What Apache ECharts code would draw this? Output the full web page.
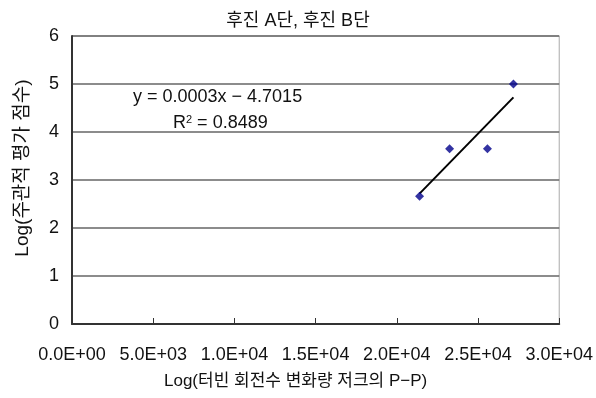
<!DOCTYPE html>
<html>
<head>
<meta charset="utf-8">
<script src="https://cdn.jsdelivr.net/npm/echarts@6/dist/echarts.min.js"></script>
<style>html,body{margin:0;padding:0;background:#fff}#c{width:596px;height:398px}</style>
</head>
<body>
<div id="c"></div>
<script>
var xValues = [21400, 23250, 25580, 27180];
var yValues = [2.66, 3.65, 3.65, 5.0];
var yTicks = [0, 1, 2, 3, 4, 5, 6];
var xTickLabels = ['0.0E+00', '5.0E+03', '1.0E+04', '1.5E+04', '2.0E+04', '2.5E+04', '3.0E+04'];
var titleText = '후진 A단, 후진 B단';
var xName = 'Log(터빈 회전수 변화량 저크의 P−P)';
var yName = 'Log(주관적 평가 점수)';
var eqText = 'y = 0.0003x − 4.7015';
var r2Value = '0.8489';

// least squares trend line from data
var n = xValues.length, mx = 0, my = 0;
for (var i = 0; i < n; i++) { mx += xValues[i]; my += yValues[i]; }
mx /= n; my /= n;
var sxy = 0, sxx = 0;
for (var i = 0; i < n; i++) { sxy += (xValues[i]-mx)*(yValues[i]-my); sxx += (xValues[i]-mx)*(xValues[i]-mx); }
var slope = sxy / sxx, icpt = my - slope * mx;
var xmin = Math.min.apply(null, xValues), xmax = Math.max.apply(null, xValues);
var trend = [[xmin, slope*xmin+icpt], [xmax, slope*xmax+icpt]];

var pts = xValues.map(function(x, i){ return [x, yValues[i]]; });
var font = 'Liberation Sans, Arial, Noto Sans CJK KR, sans-serif';
var txt = '#111';

var chart = echarts.init(document.getElementById('c'));
chart.setOption({
  animation: false,
  title: { text: titleText, left: 'center', top: 7, textStyle: { fontSize: 18, fontWeight: 'normal', color: txt, fontFamily: font } },
  grid: { left: 72, right: 35, top: 36, bottom: 74, show: true, borderColor: '#aaa', borderWidth: 1, backgroundColor: 'transparent' },
  xAxis: {
    type: 'value', min: 0, max: 30000, interval: 5000,
    name: xName, nameLocation: 'middle', nameGap: 49,
    nameTextStyle: { fontSize: 17, color: txt, fontFamily: font, padding: [0, 40, 0, 0] },
    axisLine: { show: true, onZero: false, lineStyle: { color: '#333', width: 2 } },
    axisTick: { show: true, inside: true, length: 6, lineStyle: { color: '#333' } },
    axisLabel: { margin: 22, fontSize: 18, color: txt, fontFamily: font,
      formatter: function(v){ return xTickLabels[Math.round(v/5000)]; } },
    splitLine: { show: false }
  },
  yAxis: {
    type: 'value', min: yTicks[0], max: yTicks[yTicks.length-1], interval: 1,
    name: yName, nameLocation: 'middle', nameGap: 40,
    nameTextStyle: { fontSize: 19, color: txt, fontFamily: font, padding: [0, 0, 0, 24] },
    axisLine: { show: true, lineStyle: { color: '#333', width: 2 } },
    axisTick: { show: false },
    axisLabel: { margin: 13, fontSize: 18, color: txt, fontFamily: font },
    splitLine: { show: true, lineStyle: { color: '#666', width: 1.5 } }
  },
  series: [
    { type: 'line', data: trend, symbol: 'none', lineStyle: { color: '#000', width: 2 }, z: 2 },
    { type: 'scatter', data: pts, symbol: 'diamond', symbolSize: 9, itemStyle: { color: '#00008B' }, z: 3 }
  ],
  graphic: [
    { type: 'text', left: 133, top: 88, style: { text: eqText, fontSize: 18, fill: txt, fontFamily: font } },
    { type: 'text', left: 173, top: 114, style: {
      text: '{b|R}{s|2}{b| = ' + r2Value + '}', fontFamily: font,
      rich: { b: { fontSize: 18, fill: txt, fontFamily: font, verticalAlign: 'bottom' }, s: { fontSize: 11, fill: txt, fontFamily: font, verticalAlign: 'top', padding: [0,0,6,0] } }
    } }
  ]
});
</script>
</body>
</html>
